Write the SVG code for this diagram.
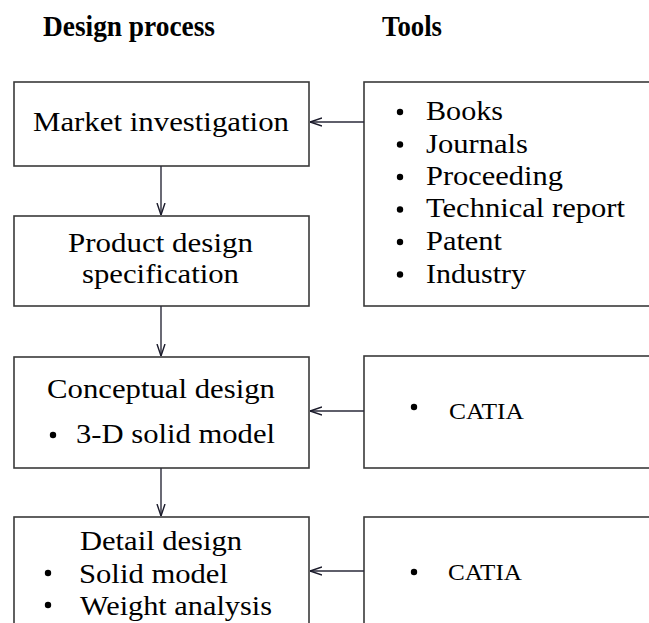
<svg xmlns="http://www.w3.org/2000/svg" width="649" height="623" viewBox="0 0 649 623">
  <style>
    .box { fill: #ffffff; stroke: #3a3a3a; stroke-width: 1.6; }
    .t { font-family: "Liberation Serif", "Times New Roman", serif; font-size: 27px; fill: #000000; }
    .title { font-family: "Liberation Serif", "Times New Roman", serif; font-size: 30px; font-weight: bold; fill: #000000; }
    .cat { font-family: "Liberation Serif", "Times New Roman", serif; font-size: 24px; fill: #000000; }
    .link { fill: none; stroke: #2a2a3a; stroke-width: 1.4; }
    .dot { fill: #000000; }
  </style>
  <defs>
    <marker id="arr" viewBox="0 0 12 10" refX="12" refY="5" markerWidth="12" markerHeight="10" markerUnits="userSpaceOnUse" orient="auto">
      <path d="M0,1 L12,5 L0,9" fill="none" stroke="#1a1a2a" stroke-width="1.4"/>
    </marker>
  </defs>
  <rect width="649" height="623" fill="#ffffff"/>

  <!-- column headings -->
  <text class="title" x="43" y="36" textLength="172" lengthAdjust="spacingAndGlyphs">Design process</text>
  <text class="title" x="382" y="36" textLength="60" lengthAdjust="spacingAndGlyphs">Tools</text>

  <!-- process steps -->
  <g id="market">
    <rect class="box" x="14" y="82" width="295" height="84"/>
    <text class="t" x="33" y="131" textLength="256" lengthAdjust="spacingAndGlyphs">Market investigation</text>
  </g>
  <g id="pds">
    <rect class="box" x="14" y="216" width="295" height="90"/>
    <text class="t" x="68" y="252" textLength="185" lengthAdjust="spacingAndGlyphs">Product design</text>
    <text class="t" x="82" y="283" textLength="157" lengthAdjust="spacingAndGlyphs">specification</text>
  </g>
  <g id="conceptual">
    <rect class="box" x="14" y="357" width="295" height="111"/>
    <text class="t" x="47" y="398" textLength="228" lengthAdjust="spacingAndGlyphs">Conceptual design</text>
    <circle class="dot" cx="53" cy="435" r="3.2"/>
    <text class="t" x="76" y="443" textLength="199" lengthAdjust="spacingAndGlyphs">3-D solid model</text>
  </g>
  <g id="detail">
    <rect class="box" x="14" y="517" width="295" height="130"/>
    <text class="t" x="80" y="550" textLength="162" lengthAdjust="spacingAndGlyphs">Detail design</text>
    <circle class="dot" cx="48" cy="573" r="3.2"/>
    <text class="t" x="79" y="583" textLength="149" lengthAdjust="spacingAndGlyphs">Solid model</text>
    <circle class="dot" cx="48" cy="605" r="3.2"/>
    <text class="t" x="80" y="615" textLength="192" lengthAdjust="spacingAndGlyphs">Weight analysis</text>
  </g>

  <!-- tool panels -->
  <g id="sources">
    <rect class="box" x="364" y="82" width="300" height="224"/>
    <circle class="dot" cx="400" cy="112" r="3.2"/>
    <text class="t" x="426" y="120" textLength="77" lengthAdjust="spacingAndGlyphs">Books</text>
    <circle class="dot" cx="400" cy="144.5" r="3.2"/>
    <text class="t" x="426" y="153" textLength="102" lengthAdjust="spacingAndGlyphs">Journals</text>
    <circle class="dot" cx="400" cy="177" r="3.2"/>
    <text class="t" x="426" y="185" textLength="137" lengthAdjust="spacingAndGlyphs">Proceeding</text>
    <circle class="dot" cx="400" cy="209.5" r="3.2"/>
    <text class="t" x="426" y="217" textLength="199" lengthAdjust="spacingAndGlyphs">Technical report</text>
    <circle class="dot" cx="400" cy="242" r="3.2"/>
    <text class="t" x="426" y="250" textLength="76" lengthAdjust="spacingAndGlyphs">Patent</text>
    <circle class="dot" cx="400" cy="274.5" r="3.2"/>
    <text class="t" x="426" y="283" textLength="100" lengthAdjust="spacingAndGlyphs">Industry</text>
  </g>
  <g id="catia1">
    <rect class="box" x="364" y="356" width="300" height="112"/>
    <circle class="dot" cx="414" cy="407" r="3.2"/>
    <text class="cat" x="449" y="419" textLength="75" lengthAdjust="spacingAndGlyphs">CATIA</text>
  </g>
  <g id="catia2">
    <rect class="box" x="364" y="517" width="300" height="130"/>
    <circle class="dot" cx="414" cy="572" r="3.2"/>
    <text class="cat" x="448" y="580" textLength="74" lengthAdjust="spacingAndGlyphs">CATIA</text>
  </g>

  <!-- connectors -->
  <g id="connectors">
    <line class="link" x1="161" y1="166" x2="161" y2="215" marker-end="url(#arr)"/>
    <line class="link" x1="161" y1="306" x2="161" y2="356" marker-end="url(#arr)"/>
    <line class="link" x1="161" y1="468" x2="161" y2="516" marker-end="url(#arr)"/>
    <line class="link" x1="364" y1="122" x2="310" y2="122" marker-end="url(#arr)"/>
    <line class="link" x1="364" y1="411" x2="310" y2="411" marker-end="url(#arr)"/>
    <line class="link" x1="364" y1="571" x2="310" y2="571" marker-end="url(#arr)"/>
  </g>
</svg>
